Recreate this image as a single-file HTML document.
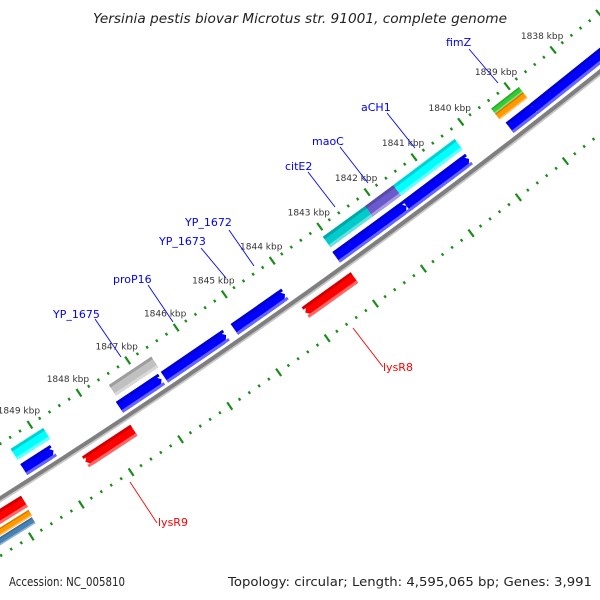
<!DOCTYPE html>
<html><head><meta charset="utf-8"><style>
html,body{margin:0;padding:0;background:#fff;width:600px;height:600px;overflow:hidden}
svg{display:block}
text{font-family:"DejaVu Sans","Liberation Sans",sans-serif}
</style></head><body>
<svg id="map" width="600" height="600" viewBox="0 0 600 600" xmlns="http://www.w3.org/2000/svg">
<rect width="600" height="600" fill="#fff"/>
<text x="300" y="23" text-anchor="middle" font-size="13" font-style="italic" fill="#222" textLength="414" lengthAdjust="spacingAndGlyphs">Yersinia pestis biovar Microtus str. 91001, complete genome</text>
<g id="ticks"></g>
<g id="backbone"></g>
<g id="features"></g>
<g id="labels"></g>
<text x="9" y="586" font-size="12" fill="#222" textLength="116" lengthAdjust="spacingAndGlyphs">Accession: NC_005810</text>
<text x="592" y="586" text-anchor="end" font-size="12" fill="#222" textLength="364" lengthAdjust="spacingAndGlyphs">Topology: circular; Length: 4,595,065 bp; Genes: 3,991</text>
</svg>
<script>
// ---- data ----
const featNames = ["cyan-1849","gray-1847","citE2","maoC","aCH1","fimZ-green","fimZ-orange",
  "blue-1849","blue-1847","blue-1846","blue-1845","blue-1844","blue-1843","blue-1842","blue-1841","blue-1839","blue-1838",
  "lysR8","lysR9","red-1850","orange-1850","steel-1850"];
const featStart = [1849.5,1847.5,1843.06,1842.17,1841.57,1839.45,1839.45,
  1849.5,1847.56,1846.64,1845.2,1844.65,1843.08,1842.3,1841.6,1839.4,1838.87,
  1844.05,1848.55,1851.5,1851.5,1851.5];
const featEnd = [1848.84,1846.63,1842.17,1841.57,1840.26,1838.85,1838.85,
  1848.9,1846.7,1845.37,1844.6,1844.15,1842.23,1841.6,1840.27,1838.83,1836.0,
  1843.03,1847.57,1849.78,1849.8,1849.82];
const featRow = ["o","o","o","o","o","og","oo","f","f","f","f","f","f","f","f","f","f","r","r","r","ro","rs"];
const featColor = ["#00ffff","#c0c0c0","#00cccc","#6a5acd","#00ffff","#33cc33","#ff9900",
  "#0000ff","#0000ff","#0000ff","#0000ff","#0000ff","#0000ff","#0000ff","#0000ff","#0000ff","#0000ff",
  "#ff0000","#ff0000","#ff0000","#ff9900","#4682b4"];
const featArrow = [0,0,0,0,0,0,0, 1,1,1,1,1,1,1,1,1,1, -1,-1,0,0,0];
const tickKbpMin = 1836.6, tickKbpMax = 1851.2;
const tickLabels = [1838,1839,1840,1841,1842,1843,1844,1845,1846,1847,1848,1849];
const geneLabels = ["fimZ","aCH1","maoC","citE2","YP_1672","YP_1673","proP16","YP_1675","lysR8","lysR9"];
const geneLabelPos = [[446,46],[361,111],[312,145],[285,170],[185,226],[159,245],[113,283],[53,318],[383,371],[158,526]];
const geneLeader = [[469,49,498,83],[387,113,415,148],[340,147,368,183],[308,172,335,207],[229,230,254,266],[201,248,226,278],[148,285,173,322],[95,319,121,357],[353,328,383,367],[130,482,157,523]];
const geneColor = ["#0000ff","#0000ff","#0000ff","#0000ff","#0000ff","#0000ff","#0000ff","#0000ff","#ff0000","#ff0000"];

// ---- geometry ----
const CX=-3544, CY=-5118, RB=6641;
const rows = {o:[6605,6618],og:[6603,6609.5],oo:[6609.5,6617],f:[6623,6636],r:[6650,6663],ro:[6666,6673],rs:[6674,6681]};
const RT_OUT=6595, RT_IN=6690;
function ang(k){return (52.61+(k-1840)*0.5085)*Math.PI/180;}
function pt(k,r){const a=ang(k);return [CX+r*Math.cos(a),CY+r*Math.sin(a)];}
const NS="http://www.w3.org/2000/svg";
function mk(tag,attrs,parent){const e=document.createElementNS(NS,tag);for(const k in attrs)e.setAttribute(k,attrs[k]);parent.appendChild(e);return e;}
function P(a){return a[0].toFixed(2)+","+a[1].toFixed(2);}
function shade(hex,f){const n=parseInt(hex.slice(1),16);let r=n>>16,g=(n>>8)&255,b=n&255;
  if(f<0){r*=1+f;g*=1+f;b*=1+f;}else{r+=(255-r)*f;g+=(255-g)*f;b+=(255-b)*f;}
  return "rgb("+Math.round(r)+","+Math.round(g)+","+Math.round(b)+")";}

// backbone
const bb=document.getElementById('backbone');
function arcPath(k1,k2,r){const a=pt(k1,r),b=pt(k2,r);return "M"+P(a)+" A"+r+","+r+" 0 0 0 "+P(b);}
const bs=mk('path',{d:arcPath(1852,1835,RB+2.5),stroke:"#c8c8c8","stroke-width":2.5,fill:"none"},bb);


const bl=mk('path',{d:arcPath(1852,1835,RB),stroke:"#7f7f7f","stroke-width":4,fill:"none"},bb);



// ticks
const tg=document.getElementById('ticks');
for(const rr of [RT_OUT,RT_IN]){
  for(let i=Math.round(tickKbpMin*5);i<=Math.round(tickKbpMax*5);i++){
    const k=i/5, major=(i%5===0), h=major?4.5:1.4;
    const a=pt(k,rr-h),b=pt(k,rr+h);
    const t=mk('line',{x1:a[0],y1:a[1],x2:b[0],y2:b[1],stroke:"#1a8c1a","stroke-width":2.2},tg);
    
    
  }
}
tickLabels.forEach(k=>{
  const p=pt(k,RT_OUT);
  const t=mk('text',{x:p[0]-11,y:p[1]-11,"text-anchor":"middle","font-size":9,fill:"#333"},tg);
  t.textContent=k+" kbp";
  
  
});

// features
const fg=document.getElementById('features');
function band(k1,k2,r1,r2,arrow){
  // k1 > k2 ; arrow 1 => head at k2 end, -1 => head at k1 end
  const hl=0.09, rm=(r1+r2)/2;
  let pts=[];
  if(arrow===1){pts=[pt(k1,r1),pt(k2+hl,r1),pt(k2,rm),pt(k2+hl,r2),pt(k1,r2)];}
  else if(arrow===-1){pts=[pt(k1-hl,r1),pt(k2,r1),pt(k2,r2),pt(k1-hl,r2),pt(k1,rm)];}
  else{pts=[pt(k1,r1),pt(k2,r1),pt(k2,r2),pt(k1,r2)];}
  return "M"+pts.map(P).join(" L")+" Z";
}
for(let i=0;i<featNames.length;i++){
  const [r1,r2]=rows[featRow[i]], k1=featStart[i], k2=featEnd[i], c=featColor[i], ar=featArrow[i];
  const g=mk('g',{},fg);
  
  
  mk('path',{d:band(k1,k2,r1,r2,ar),fill:c},g);
  const th=(r2-r1)>9?3:1.5;
  mk('path',{d:band(k1,k2,r1,r1+th,0),fill:shade(c,-0.18)},g);
  mk('path',{d:band(k1,k2,r2-th,r2,0),fill:shade(c,0.4)},g);
}

// gene labels
const lg=document.getElementById('labels');
geneLabels.forEach((n,i)=>{
  const l=geneLeader[i];
  const ln=mk('line',{x1:l[0],y1:l[1],x2:l[2],y2:l[3],stroke:geneColor[i],"stroke-width":0.9},lg);
  
  
  const t=mk('text',{x:geneLabelPos[i][0],y:geneLabelPos[i][1],"font-size":11,fill:geneColor[i]},lg);
  t.textContent=n;
  
  
});
</script>
</body></html>
